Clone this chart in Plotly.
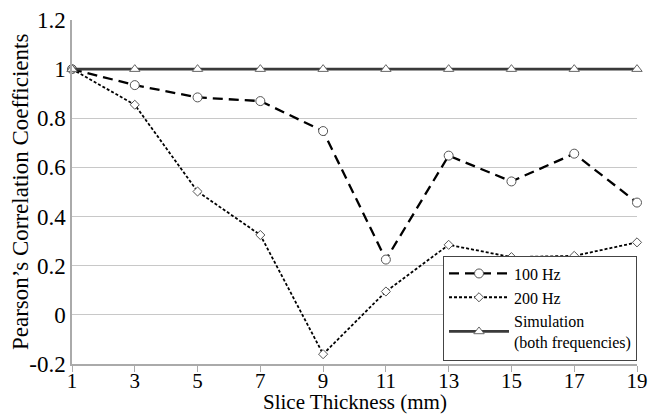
import plotly.graph_objects as go

thickness = [1, 3, 5, 7, 9, 11, 13, 15, 17, 19]
hz100 = [1.0, 0.935, 0.885, 0.87, 0.748, 0.225, 0.648, 0.543, 0.656, 0.457]
hz200 = [1.0, 0.855, 0.502, 0.325, -0.16, 0.095, 0.285, 0.235, 0.24, 0.295]
simulation = [1.0] * 10
ytick_vals = [-0.2, 0, 0.2, 0.4, 0.6, 0.8, 1.0, 1.2]
ytick_text = ["-0.2", "0", "0.2", "0.4", "0.6", "0.8", "1", "1.2"]

font_family = "Liberation Serif"

fig = go.Figure()
fig.add_trace(go.Scatter(
    x=thickness, y=hz100, name="100 Hz",
    mode="lines+markers", cliponaxis=False,
    line=dict(color="black", width=2.3, dash="10px,6px"),
    marker=dict(symbol="circle", size=9, color="white",
                line=dict(color="#555555", width=1)),
))
fig.add_trace(go.Scatter(
    x=thickness, y=hz200, name="200 Hz",
    mode="lines+markers", cliponaxis=False,
    line=dict(color="black", width=1.8, dash="3px,2px"),
    marker=dict(symbol="diamond", size=7, color="white",
                line=dict(color="#555555", width=1)),
))
fig.add_trace(go.Scatter(
    x=thickness, y=simulation, name="Simulation<br>(both frequencies)",
    mode="lines+markers", cliponaxis=False,
    line=dict(color="#3a3a3a", width=2.8),
    marker=dict(symbol="triangle-up", size=9, color="white",
                line=dict(color="#666666", width=1)),
))

fig.update_layout(
    width=651, height=415,
    margin=dict(l=72, r=14, t=20, b=51),
    paper_bgcolor="white", plot_bgcolor="white",
    font=dict(family=font_family, color="black", size=22),
    showlegend=True,
    legend=dict(
        x=1.0, y=0.01, xanchor="right", yanchor="bottom",
        bgcolor="white", bordercolor="#444444", borderwidth=1,
        font=dict(size=16, family=font_family),
        traceorder="normal", tracegroupgap=0,
        itemwidth=60,
    ),
    xaxis=dict(
        range=[1, 19], tickvals=thickness, ticktext=[str(t) for t in thickness],
        showgrid=False, zeroline=False, automargin=False,
        showline=True, linecolor="#aaaaaa", linewidth=1.5,
        ticks="outside", ticklen=6, tickcolor="#aaaaaa",
        ticklabelstandoff=-9,
        tickfont=dict(size=21, family=font_family),
    ),
    yaxis=dict(
        range=[-0.2, 1.2], tickvals=ytick_vals, ticktext=ytick_text,
        showgrid=True, gridcolor="#c8c8c8", gridwidth=1.2,
        zeroline=False, automargin=False,
        showline=True, linecolor="#aaaaaa", linewidth=1.5,
        ticks="", tickfont=dict(size=23, family=font_family),
    ),
    annotations=[
        dict(text="Slice Thickness (mm)", x=0.5, y=0, xref="paper", yref="paper",
             xanchor="center", yanchor="middle", yshift=-38, showarrow=False,
             font=dict(size=21, family=font_family)),
        dict(text="Pearson\u2019s Correlation Coefficients", x=0, y=0.5,
             xref="paper", yref="paper", xanchor="center", yanchor="middle",
             xshift=-52, textangle=-90, showarrow=False,
             font=dict(size=23, family=font_family)),
    ],
)

fig.write_html("out.html")
